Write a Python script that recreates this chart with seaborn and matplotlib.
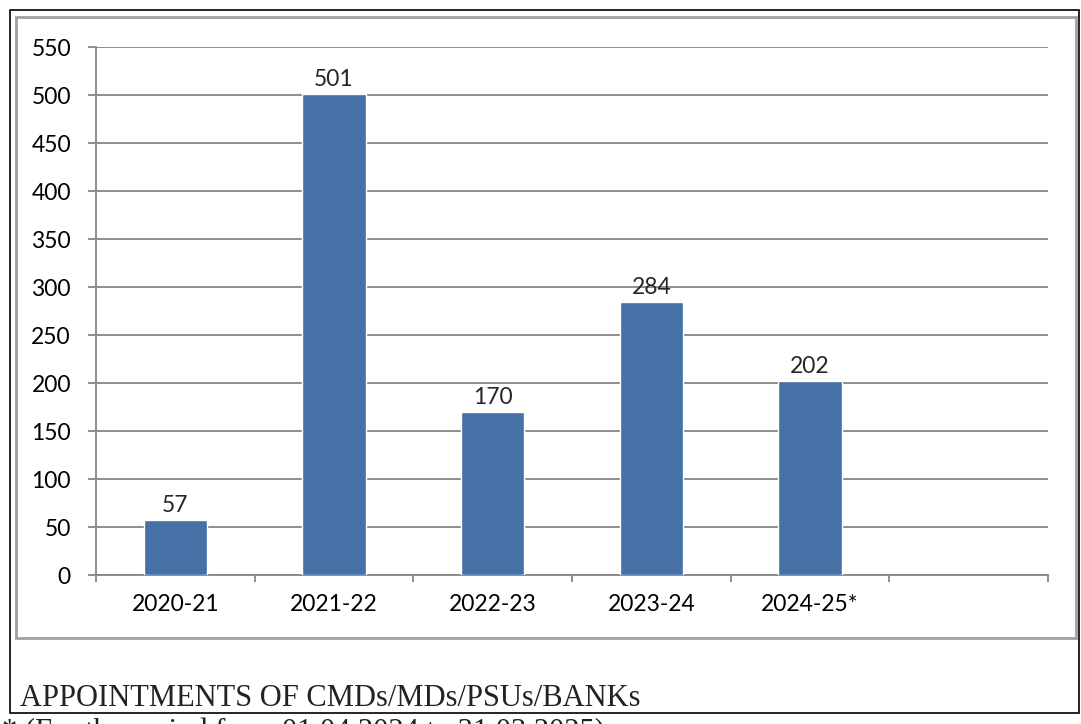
import matplotlib
matplotlib.use("Agg")
import matplotlib.pyplot as plt
from matplotlib.patches import Rectangle
import seaborn as sns
import pandas as pd
import numpy as np

# Data
years = ["2020-21", "2021-22", "2022-23", "2023-24", "2024-25*"]
appointments = [57, 501, 170, 284, 202]
y_ticks = list(range(0, 551, 50))

title_text = "APPOINTMENTS OF CMDs/MDs/PSUs/BANKs"
footnote_text = "* (For the period from 01.04.2024 to 31.03.2025)"

df = pd.DataFrame({"year": years, "count": appointments})

sns.set_style("white")
plt.rcParams["font.family"] = ["Lato", "DejaVu Sans"]

W, H = 1081, 724
fig = plt.figure(figsize=(W / 100, H / 100), dpi=100)
ax = fig.add_axes([96 / W, 1 - 575 / H, (1048 - 96) / W, (575 - 47) / H])

bar_color = "#4571A6"
sns.barplot(data=df, x="year", y="count", color=bar_color, width=0.4,
            saturation=1, ax=ax, zorder=3)

# one empty slot on the right, as in the original
ax.set_xlim(-0.5, len(years) + 0.5)
ax.set_ylim(0, 550)
ax.set_yticks(y_ticks)
ax.yaxis.grid(True, color="#868686", linewidth=1.3, zorder=0)
ax.xaxis.grid(False)
ax.set_axisbelow(True)

for s in ["top", "right"]:
    ax.spines[s].set_visible(False)
for s in ["left", "bottom"]:
    ax.spines[s].set_color("#868686")
    ax.spines[s].set_linewidth(1.3)

ax.set_xticks(range(len(years)))
ax.set_xticklabels(years)
ax.set_xticks(np.arange(-0.5, len(years) + 0.6, 1), minor=True)
ax.tick_params(axis="x", which="major", bottom=False, length=0, pad=14,
               labelsize=16.5, colors="black")
ax.tick_params(axis="x", which="minor", bottom=True, length=5, width=1.3,
               color="#868686", direction="out")
ax.tick_params(axis="y", left=True, length=6, width=1.3, color="#868686",
               direction="out", labelsize=16.5, pad=12, labelcolor="black")
ax.set_xlabel("")
ax.set_ylabel("")

ax.bar_label(ax.containers[0], labels=[str(v) for v in appointments],
             padding=3, fontsize=16.5)

# frames around the chart
fig.patches.append(Rectangle((10 / W, 1 - 713 / H), 1069 / W, 703 / H,
                             transform=fig.transFigure, fill=False,
                             edgecolor="black", linewidth=1.2))
fig.patches.append(Rectangle((16 / W, 1 - 638 / H), 1060 / W, 621 / H,
                             transform=fig.transFigure, fill=False,
                             edgecolor="#a0a0a0", linewidth=2))

fig.text(20 / W, 1 - 706 / H, title_text, family="Liberation Serif",
         fontsize=22, color="#222222", va="baseline")
fig.text(2 / W, 1 - 740 / H, footnote_text, family="Liberation Serif",
         fontsize=22, color="#222222", va="baseline")

fig.savefig("out.png", dpi=100)
